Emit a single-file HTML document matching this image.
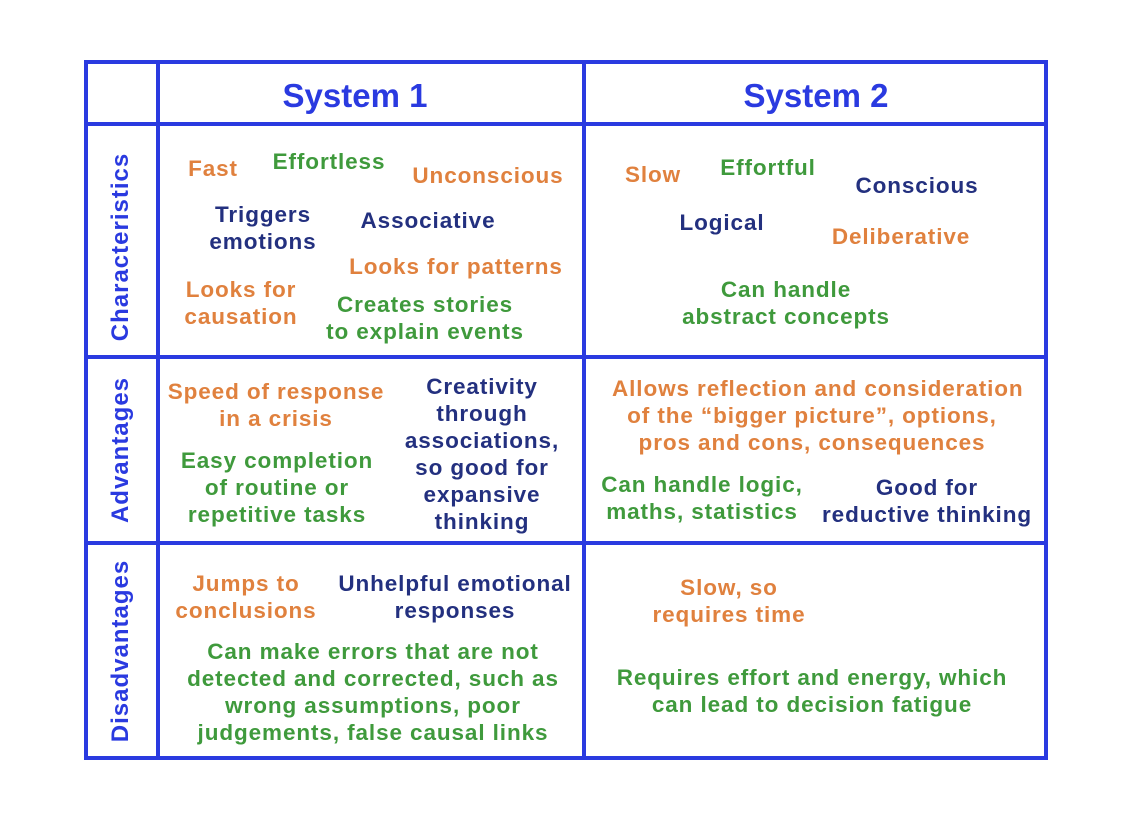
<!DOCTYPE html>
<html><head><meta charset="utf-8"><style>
html,body{margin:0;padding:0;background:#fff;}
body{width:1125px;height:814px;position:relative;overflow:hidden;font-family:"Liberation Sans",sans-serif;font-weight:bold;}
.l{position:absolute;background:#2a3ae0;}
.t{position:absolute;width:400px;text-align:center;font-size:22.5px;line-height:27px;white-space:nowrap;letter-spacing:0.9px;}
.o{color:#e0813e;} .g{color:#3f9a3c;} .n{color:#23307f;}
.h{position:absolute;width:400px;text-align:center;font-size:33px;line-height:40px;color:#2a3ae0;}
.v{position:absolute;width:300px;text-align:center;font-size:24px;line-height:30px;color:#2a3ae0;transform:rotate(-90deg);letter-spacing:1px;}
</style></head><body>
<div class="l" style="left:84px;top:60px;width:964px;height:4px"></div>
<div class="l" style="left:84px;top:756px;width:964px;height:4px"></div>
<div class="l" style="left:84px;top:60px;width:4px;height:700px"></div>
<div class="l" style="left:1044px;top:60px;width:4px;height:700px"></div>
<div class="l" style="left:156px;top:60px;width:4px;height:700px"></div>
<div class="l" style="left:582px;top:60px;width:4px;height:700px"></div>
<div class="l" style="left:84px;top:122px;width:964px;height:4px"></div>
<div class="l" style="left:84px;top:355px;width:964px;height:4px"></div>
<div class="l" style="left:84px;top:541px;width:964px;height:4px"></div>

<div class="h" style="left:155px;top:76px">System 1</div>
<div class="h" style="left:616px;top:76px">System 2</div>

<div class="v" style="left:-29px;top:232px">Characteristics</div>
<div class="v" style="left:-29px;top:435px">Advantages</div>
<div class="v" style="left:-29px;top:636px">Disadvantages</div>

<div class="t o" style="left:13px;top:155px">Fast</div>
<div class="t g" style="left:129px;top:148px">Effortless</div>
<div class="t o" style="left:288px;top:162px">Unconscious</div>
<div class="t n" style="left:63px;top:201px">Triggers<br>emotions</div>
<div class="t n" style="left:228px;top:207px">Associative</div>
<div class="t o" style="left:256px;top:253px">Looks for patterns</div>
<div class="t o" style="left:41px;top:276px">Looks for<br>causation</div>
<div class="t g" style="left:225px;top:291px">Creates stories<br>to explain events</div>

<div class="t o" style="left:453px;top:161px">Slow</div>
<div class="t g" style="left:568px;top:154px">Effortful</div>
<div class="t n" style="left:717px;top:172px">Conscious</div>
<div class="t n" style="left:522px;top:209px">Logical</div>
<div class="t o" style="left:701px;top:223px">Deliberative</div>
<div class="t g" style="left:586px;top:276px">Can handle<br>abstract concepts</div>

<div class="t o" style="left:76px;top:378px">Speed of response<br>in a crisis</div>
<div class="t n" style="left:282px;top:373px">Creativity<br>through<br>associations,<br>so good for<br>expansive<br>thinking</div>
<div class="t g" style="left:77px;top:447px">Easy completion<br>of routine or<br>repetitive tasks</div>
<div class="t o" style="left:612px;top:375px">Allows reflection and consideration<br>of the “bigger picture”, options,<br>pros and cons, consequences</div>
<div class="t g" style="left:502px;top:471px">Can handle logic,<br>maths, statistics</div>
<div class="t n" style="left:727px;top:474px">Good for<br>reductive thinking</div>

<div class="t o" style="left:46px;top:570px">Jumps to<br>conclusions</div>
<div class="t n" style="left:255px;top:570px">Unhelpful emotional<br>responses</div>
<div class="t g" style="left:173px;top:638px">Can make errors that are not<br>detected and corrected, such as<br>wrong assumptions, poor<br>judgements, false causal links</div>
<div class="t o" style="left:529px;top:574px">Slow, so<br>requires time</div>
<div class="t g" style="left:612px;top:664px">Requires effort and energy, which<br>can lead to decision fatigue</div>
</body></html>
